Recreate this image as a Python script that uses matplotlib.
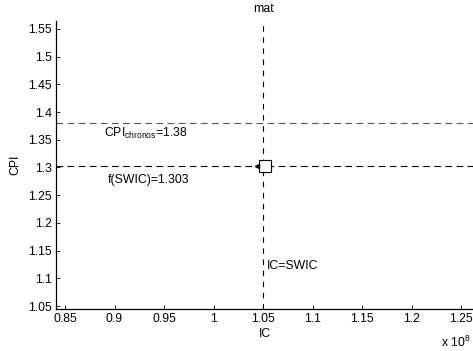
import matplotlib
matplotlib.use("Agg")
import matplotlib.pyplot as plt

plt.rcParams['font.family'] = ['Liberation Sans', 'DejaVu Sans']

# data
swic = 1.05          # x 1e8
cpi_chronos = 1.38
f_swic = 1.303
xticks = [0.85, 0.9, 0.95, 1, 1.05, 1.1, 1.15, 1.2, 1.25]
xticklabels = ['0.85', '0.9', '0.95', '1', '1.05', '1.1', '1.15', '1.2', '1.25']
yticks = [1.05, 1.1, 1.15, 1.2, 1.25, 1.3, 1.35, 1.4, 1.45, 1.5, 1.55]
yticklabels = ['1.05', '1.1', '1.15', '1.2', '1.25', '1.3', '1.35', '1.4', '1.45', '1.5', '1.55']

fig = plt.figure(figsize=(4.73, 3.51), dpi=100)
ax = fig.add_axes([56/473, 1-309/351, 1-56/473, (309-21)/351])
ax.set_xlim(0.8409, 1.262)
ax.set_ylim(1.0446, 1.5644)

ax.axhline(cpi_chronos, color='#555555', ls=(0, (6, 4)), lw=0.8)
ax.axhline(f_swic, color='black', ls=(0, (6, 4)), lw=0.8)
ax.axvline(swic, color='black', ls=(0, (5, 5)), lw=0.8)

ax.plot([swic + 0.0015], [f_swic], marker='s', ms=8, mfc='white', mec='black', mew=0.8)
ax.plot([swic - 0.006], [f_swic], marker='<', ms=3, color='black')

fs = 8.8
ax.text(0.932, 1.361, r'CPI$_{\mathregular{chronos}}$=1.38', fontsize=fs, ha='center', va='center')
ax.text(0.934, 1.2775, 'f(SWIC)=1.303', fontsize=fs, ha='center', va='center')
ax.text(swic + 0.004, 1.123, 'IC=SWIC', fontsize=fs, ha='left', va='center')

ax.set_xticks(xticks)
ax.set_xticklabels(xticklabels)
ax.set_yticks(yticks)
ax.set_yticklabels(yticklabels)
ax.tick_params(direction='in', length=3, width=0.6, labelsize=fs, pad=3)
for s in ['top', 'right']:
    ax.spines[s].set_visible(False)
for s in ['left', 'bottom']:
    ax.spines[s].set_linewidth(0.9)

ax.set_xlabel('IC', fontsize=fs, labelpad=2)
ax.set_ylabel('CPI', fontsize=fs, labelpad=5)
fig.text(263/473, 1-9/351, 'mat', fontsize=fs, ha='center', va='center')
fig.text(471/473, 1-342/351, r'x 10$^{\mathregular{8}}$', fontsize=fs, ha='right', va='center')

fig.savefig('out.png', dpi=100)
